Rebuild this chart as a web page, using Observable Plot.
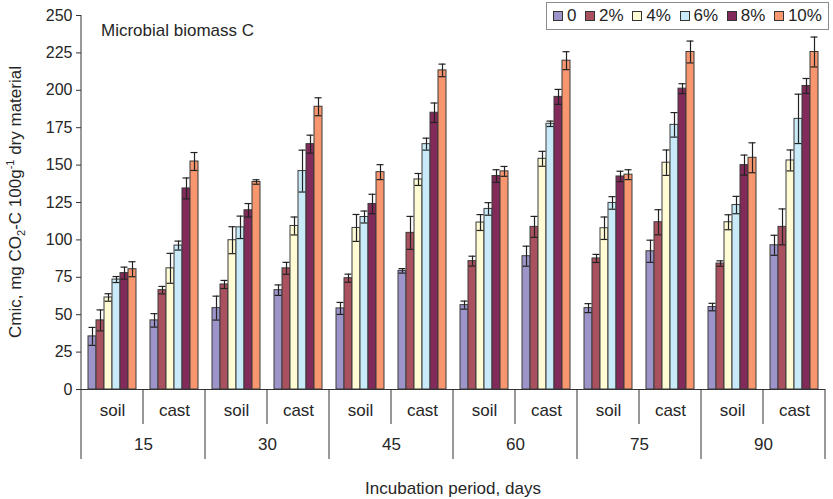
<!DOCTYPE html>
<html><head><meta charset="utf-8">
<script src="https://cdn.jsdelivr.net/npm/d3@7"></script>
<script src="https://cdn.jsdelivr.net/npm/@observablehq/plot@0.6"></script>
<style>
body{margin:0;background:#fff;font-family:"Liberation Sans",Arial,sans-serif;}
#wrap{position:relative;width:833px;height:499px;}
#legend{position:absolute;left:546px;top:2px;width:283px;height:28px;border:1px solid #8c8c8c;box-sizing:border-box;display:flex;align-items:center;justify-content:space-between;padding:0 6px;background:#fff;font-size:17px;color:#262626}
.item{display:flex;align-items:center;white-space:nowrap}
.sw{width:8px;height:8px;border:1px solid #333;margin-right:4px}
</style></head><body><div id="wrap"><div id="legend"></div></div>
<script>
const days = ["15","30","45","60","75","90"];
const types = ["soil","cast"];
const series = ["0","2%","4%","6%","8%","10%"];
const colors = ["#9D95C9","#A9515F","#FFFCD5","#C9EBF9","#822A59","#F7966F"];
const yTicks = [0,25,50,75,100,125,150,175,200,225,250];
// values per series, order: 15 soil, 15 cast, 30 soil, 30 cast, ... 90 soil, 90 cast
const v0   = [35.5, 46.2, 54.4, 66.4, 54.2, 79.3, 56.4, 89.1, 54.4, 92.4, 55.1, 96.4];
const v2   = [46.2, 66.4, 70.2, 81.0, 74.4, 104.7, 85.8, 108.7, 87.6, 111.8, 84.2, 108.7];
const v4   = [61.5, 81.0, 99.8, 109.3, 108.0, 140.4, 111.6, 154.2, 107.8, 151.6, 111.8, 153.1];
const v6   = [73.5, 96.2, 108.4, 146.0, 115.3, 164.0, 120.7, 177.6, 124.7, 176.9, 123.3, 180.9];
const v8   = [77.8, 134.4, 119.8, 164.0, 124.0, 185.0, 142.7, 195.6, 142.4, 201.1, 150.0, 202.9];
const v10  = [80.4, 152.4, 138.7, 189.0, 145.3, 213.3, 145.8, 219.8, 143.6, 225.6, 154.9, 225.6];
const e0   = [6.0, 4.5, 8.0, 3.5, 4.0, 1.5, 2.7, 6.7, 3.0, 7.4, 2.5, 6.7];
const e2   = [7.0, 2.5, 2.7, 4.0, 2.7, 11.0, 3.3, 7.0, 2.7, 8.4, 1.8, 12.0];
const e4   = [2.5, 10.0, 9.0, 6.0, 9.0, 4.0, 5.3, 5.0, 7.5, 8.5, 5.0, 7.0];
const e6   = [2.0, 3.0, 7.5, 14.0, 4.0, 4.0, 4.2, 1.8, 4.2, 8.2, 5.8, 16.5];
const e8   = [4.0, 7.0, 4.5, 6.0, 6.5, 6.5, 4.2, 5.0, 3.5, 3.3, 6.7, 5.0];
const e10  = [5.0, 6.0, 1.5, 6.0, 5.0, 4.2, 3.3, 6.0, 3.3, 7.3, 10.0, 10.0];

const values = [v0, v2, v4, v6, v8, v10];
const errs = [e0, e2, e4, e6, e8, e10];
const subs = days.flatMap(d => types.map(t => d + " " + t));
const rows = series.flatMap((s, i) => subs.map((sub, j) => ({series: s, sub, value: values[i][j], err: errs[i][j]})));
const subRows = subs.map((sub, j) => ({sub, day: days[Math.floor(j / 2)], type: types[j % 2]}));

const plot = Plot.plot({
  width: 833, height: 499,
  marginLeft: 78, marginRight: 5, marginTop: 15, marginBottom: 110,
  style: {fontFamily: "Liberation Sans, Arial, sans-serif", fontSize: "16px", color: "#262626", background: "#fff"},
  fx: {domain: subs, padding: 0, axis: null, label: null},
  x: {domain: series, paddingInner: 0, paddingOuter: 0.75, axis: null, label: null},
  y: {domain: [0, 250], axis: null},
  color: {domain: series, range: colors},
  marks: [
    Plot.barY(rows, {fx: "sub", x: "series", y: "value", fill: "series", stroke: "#3a3a3a", strokeWidth: 1}),
    Plot.ruleX(rows, {fx: "sub", x: "series", y1: d => d.value - d.err, y2: d => d.value + d.err, stroke: "#222", strokeWidth: 1.2}),
    Plot.tickY(rows, {fx: "sub", x: "series", y: d => d.value + d.err, stroke: "#222", strokeWidth: 1.2, insetLeft: 0.5, insetRight: 0.5}),
    Plot.tickY(rows, {fx: "sub", x: "series", y: d => d.value - d.err, stroke: "#222", strokeWidth: 1.2, insetLeft: 0.5, insetRight: 0.5}),
    Plot.ruleY([0], {stroke: "#333", strokeWidth: 1}),
    Plot.axisY({ticks: yTicks, tickSize: 5, tickPadding: 4, fontSize: 16, label: null, stroke: "#333"}),
    Plot.text(subRows, {fx: "sub", text: "type", frameAnchor: "bottom", dy: 26, fontSize: 17, fill: "#262626"}),
    Plot.text(subRows.filter(d => d.type === "soil"), {fx: "sub", text: "day", frameAnchor: "bottom-right", textAnchor: "middle", dy: 60, fontSize: 17, fill: "#262626"})
  ]
});

document.getElementById("wrap").prepend(plot);

// helper lines and titles using the plot's own scales
const svg = d3.select(plot);
const fx = plot.scale("fx");
const y = plot.scale("y");
const y0 = y.apply(0), yTop = y.apply(250);
const left0 = fx.apply(subs[0]);
const g = svg.append("g").attr("stroke", "#333").attr("stroke-width", 1);
// y-axis line
g.append("line").attr("x1", left0).attr("x2", left0).attr("y1", yTop).attr("y2", y0);
// separators below the axis
subs.forEach((sub, j) => {
  const xl = fx.apply(sub);
  g.append("line").attr("x1", xl).attr("x2", xl).attr("y1", y0).attr("y2", y0 + (j % 2 === 0 ? 70 : 35));
});
const xr = fx.apply(subs[subs.length - 1]) + fx.bandwidth;
g.append("line").attr("x1", xr).attr("x2", xr).attr("y1", y0).attr("y2", y0 + 70);

const tg = svg.append("g").attr("fill", "#262626").style("font-family", "Liberation Sans, Arial, sans-serif").style("font-size", "17px");
tg.append("text").attr("x", left0 + 20).attr("y", 36).attr("text-anchor", "start").text("Microbial biomass C");
tg.append("text").attr("x", (left0 + xr) / 2).attr("y", 494).attr("text-anchor", "middle").text("Incubation period, days");
const yt = tg.append("text").attr("transform", `translate(21,${(y0 + yTop) / 2}) rotate(-90)`).attr("text-anchor", "middle");
yt.append("tspan").text("Cmic, mg CO");
yt.append("tspan").attr("font-size", "11px").attr("dy", 4).text("2");
yt.append("tspan").attr("dy", -4).text("-C 100g");
yt.append("tspan").attr("font-size", "11px").attr("dy", -7).text("-1");
yt.append("tspan").attr("dy", 7).text(" dry material");

// legend
const leg = d3.select("#legend");
series.forEach((s, i) => {
  const it = leg.append("div").attr("class", "item");
  it.append("div").attr("class", "sw").style("background", colors[i]);
  it.append("span").text(s);
});
</script>
</body></html>
